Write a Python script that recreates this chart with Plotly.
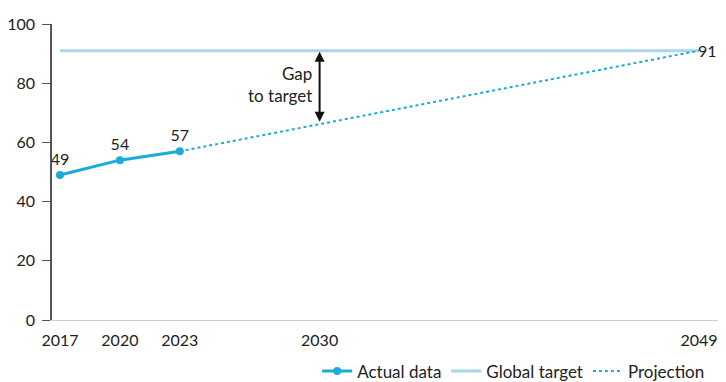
import plotly.graph_objects as go

actual_years = [2017, 2020, 2023]
actual_values = [49, 54, 57]
target_years = [2017, 2049]
target_values = [91, 91]
proj_years = [2023, 2049]
proj_values = [57, 91]
x_ticks = [2017, 2020, 2023, 2030, 2049]
y_ticks = [0, 20, 40, 60, 80, 100]
gap_year = 2030

BLUE = "#1AABDB"
LIGHT = "#A9D6E9"
FONT = "Lato"
TXT = "#222222"

# projected value at gap year from the projection line
gap_low = proj_values[0] + (proj_values[1] - proj_values[0]) * (gap_year - proj_years[0]) / (proj_years[1] - proj_years[0])

fig = go.Figure()
fig.add_trace(go.Scatter(x=actual_years, y=actual_values, mode="lines+markers+text",
                         name="Actual data", line=dict(color=BLUE, width=3),
                         marker=dict(size=8, color=BLUE),
                         text=[str(v) for v in actual_values], textposition="top center",
                         textfont=dict(size=16, color=TXT), cliponaxis=False))
fig.add_trace(go.Scatter(x=target_years, y=target_values, mode="lines", name="Global target",
                         line=dict(color=LIGHT, width=3)))
fig.add_trace(go.Scatter(x=proj_years, y=proj_values, mode="lines", name="Projection",
                         line=dict(color=BLUE, width=2, dash="dot"), cliponaxis=False))

fig.add_annotation(x=proj_years[-1], y=proj_values[-1], xref="x", yref="y",
                   text=str(proj_values[-1]), showarrow=False, xanchor="left", xshift=-3,
                   font=dict(size=16, color=TXT))
fig.add_annotation(x=gap_year, y=target_values[0], ax=gap_year, ay=gap_low, xref="x", yref="y",
                   axref="x", ayref="y", showarrow=True, arrowhead=2, arrowside="end+start",
                   arrowsize=1, arrowwidth=2, arrowcolor="#111", text="", standoff=1, startstandoff=1)
fig.add_annotation(x=gap_year, y=(target_values[0] + gap_low) / 2 + 1, xref="x", yref="y",
                   text="Gap<br>to target", showarrow=False, xanchor="right", xshift=-6,
                   align="right", font=dict(size=17, color=TXT))

fig.update_layout(
    width=718, height=374, margin=dict(l=44, r=0, t=16, b=62, autoexpand=False),
    paper_bgcolor="white", plot_bgcolor="white",
    font=dict(family=FONT, size=16, color=TXT),
    showlegend=True,
    legend=dict(orientation="h", x=0.3934, xanchor="left", y=-0.113, yanchor="top",
                font=dict(size=17, color=TXT), itemwidth=30, tracegroupgap=0),
    xaxis=dict(range=[2016.6, 2050.35], tickmode="array", tickvals=x_ticks,
               showgrid=False, zeroline=False, showline=True, linecolor="#cccccc", linewidth=1,
               ticks="", tickfont=dict(size=16), ticklabelstandoff=6, automargin=False),
    yaxis=dict(range=[0, 100], tickmode="array", tickvals=y_ticks, showgrid=False, zeroline=False,
               showline=True, linecolor="#555555", linewidth=1.5, ticks="outside", ticklen=8,
               tickcolor="#555555", tickfont=dict(size=16), ticklabelstandoff=4, automargin=False),
)
fig.write_html("out.html")
